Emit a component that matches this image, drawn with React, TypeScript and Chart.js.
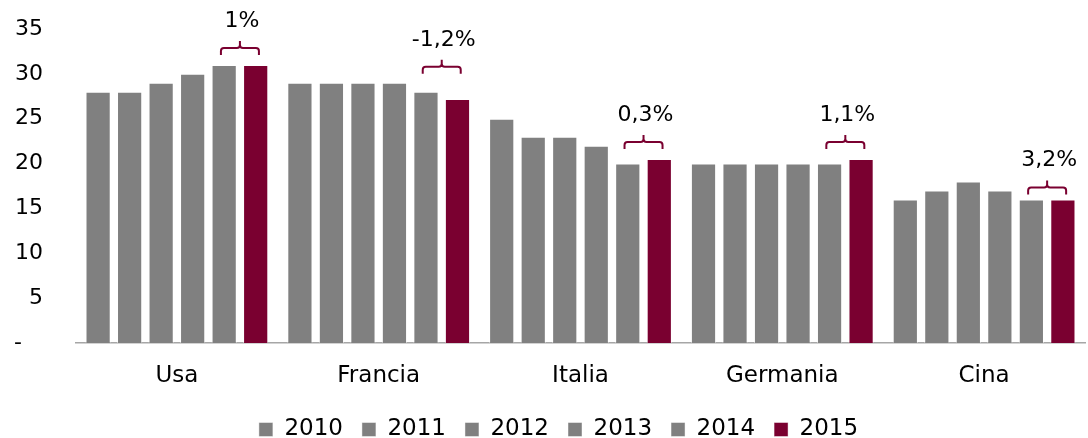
import React, { useEffect, useRef } from 'react';
import { Chart, registerables } from 'chart.js';

Chart.register(...registerables);

const categories = ['Usa', 'Francia', 'Italia', 'Germania', 'Cina'];
const years = ['2010', '2011', '2012', '2013', '2014', '2015'];
const v2010 = [28, 29, 25, 20, 16];
const v2011 = [28, 29, 23, 20, 17];
const v2012 = [29, 29, 23, 20, 18];
const v2013 = [30, 29, 22, 20, 17];
const v2014 = [31, 28, 20, 20, 16];
const v2015 = [31, 27.2, 20.5, 20.5, 16];
const growthLabels = ['1%', '-1,2%', '0,3%', '1,1%', '3,2%'];
const yMin = 0;
const yMax = 35;
const yStep = 5;

const FONT = 'DejaVu Sans';
const GRAY = '#808080';
const MAROON = '#7a0030';

const legendShiftPlugin = {
  id: 'legendShift',
  afterLayout(chart: any, _args: any, opts: any) {
    const lg = chart.legend;
    if (lg) {
      lg.left += opts.dx || 0;
      lg.right += opts.dx || 0;
    }
  },
};

const bracketPlugin = {
  id: 'brackets',
  afterDatasetsDraw(chart: any, _args: any, opts: any) {
    const ctx = chart.ctx;
    const m4 = chart.getDatasetMeta(4);
    const m5 = chart.getDatasetMeta(5);
    const gaps: number[] = opts.gaps || [];
    growthLabels.forEach((lab, i) => {
      const b4 = m4.data[i];
      const b5 = m5.data[i];
      if (!b4 || !b5) return;
      const cx = (b4.x + b5.x) / 2;
      const top = Math.min(b4.y, b5.y);
      const bottom = top - (gaps[i] ?? 10);
      const hw = 19;
      const h = 7;
      const r = 3;
      ctx.save();
      ctx.strokeStyle = MAROON;
      ctx.lineWidth = 2;
      ctx.lineCap = 'butt';
      ctx.beginPath();
      ctx.moveTo(cx - hw, bottom);
      ctx.lineTo(cx - hw, bottom - h + r);
      ctx.quadraticCurveTo(cx - hw, bottom - h, cx - hw + r, bottom - h);
      ctx.lineTo(cx - r, bottom - h);
      ctx.quadraticCurveTo(cx, bottom - h, cx, bottom - h - r);
      ctx.lineTo(cx, bottom - 2 * h);
      ctx.moveTo(cx, bottom - h - r);
      ctx.quadraticCurveTo(cx, bottom - h, cx + r, bottom - h);
      ctx.lineTo(cx + hw - r, bottom - h);
      ctx.quadraticCurveTo(cx + hw, bottom - h, cx + hw, bottom - h + r);
      ctx.lineTo(cx + hw, bottom);
      ctx.stroke();
      ctx.fillStyle = '#000';
      ctx.font = `22px "${FONT}"`;
      ctx.textAlign = 'center';
      ctx.textBaseline = 'middle';
      ctx.fillText(lab, cx + 2, bottom - 34);
      ctx.restore();
    });
  },
};

export default function App() {
  const ref = useRef<HTMLCanvasElement | null>(null);

  useEffect(() => {
    if (!ref.current) return;
    const series = [v2010, v2011, v2012, v2013, v2014, v2015];
    const chart = new Chart(ref.current, {
      type: 'bar',
      data: {
        labels: categories,
        datasets: years.map((y, i) => ({
          label: y,
          data: series[i],
          backgroundColor: i === 5 ? MAROON : GRAY,
          borderColor: 'rgba(255,255,255,0.45)',
          borderWidth: 1,
          categoryPercentage: 0.937,
          barPercentage: 0.8,
        })),
      },
      options: {
        animation: false,
        responsive: true,
        maintainAspectRatio: false,
        layout: { padding: { top: 29, right: 3, left: 0, bottom: 0 } },
        plugins: {
          legend: {
            position: 'bottom',
            maxHeight: 39,
            labels: {
              boxWidth: 14,
              boxHeight: 14,
              padding: 19,
              color: '#000',
              font: { family: FONT, size: 23 },
            },
          },
          tooltip: { enabled: false },
          brackets: { gaps: [10, 18, 10, 10, 5] },
          legendShift: { dx: 16 },
        } as any,
        scales: {
          x: {
            grid: { display: false, drawTicks: false },
            border: { display: true, color: '#a6a6a6', width: 1.5 },
            ticks: { color: '#000', font: { family: FONT, size: 23 }, padding: 19 },
            afterFit: (s: any) => {
              s.height = 56;
            },
          },
          y: {
            min: yMin,
            max: yMax,
            grid: { display: false, drawTicks: false },
            border: { display: false },
            ticks: {
              stepSize: yStep,
              padding: 33,
              color: '#000',
              font: { family: FONT, size: 22 },
              callback: (v: any) => (Number(v) === 0 ? '-   ' : String(v)),
            },
            afterFit: (s: any) => {
              s.width = 76;
              s.paddingTop = 0;
              s.paddingBottom = 0;
            },
          },
        },
      },
      plugins: [bracketPlugin, legendShiftPlugin],
    });
    return () => chart.destroy();
  }, []);

  return (
    <div style={{ position: 'absolute', left: 0, top: 0, width: 1088, height: 438 }}>
      <canvas ref={ref} />
    </div>
  );
}
